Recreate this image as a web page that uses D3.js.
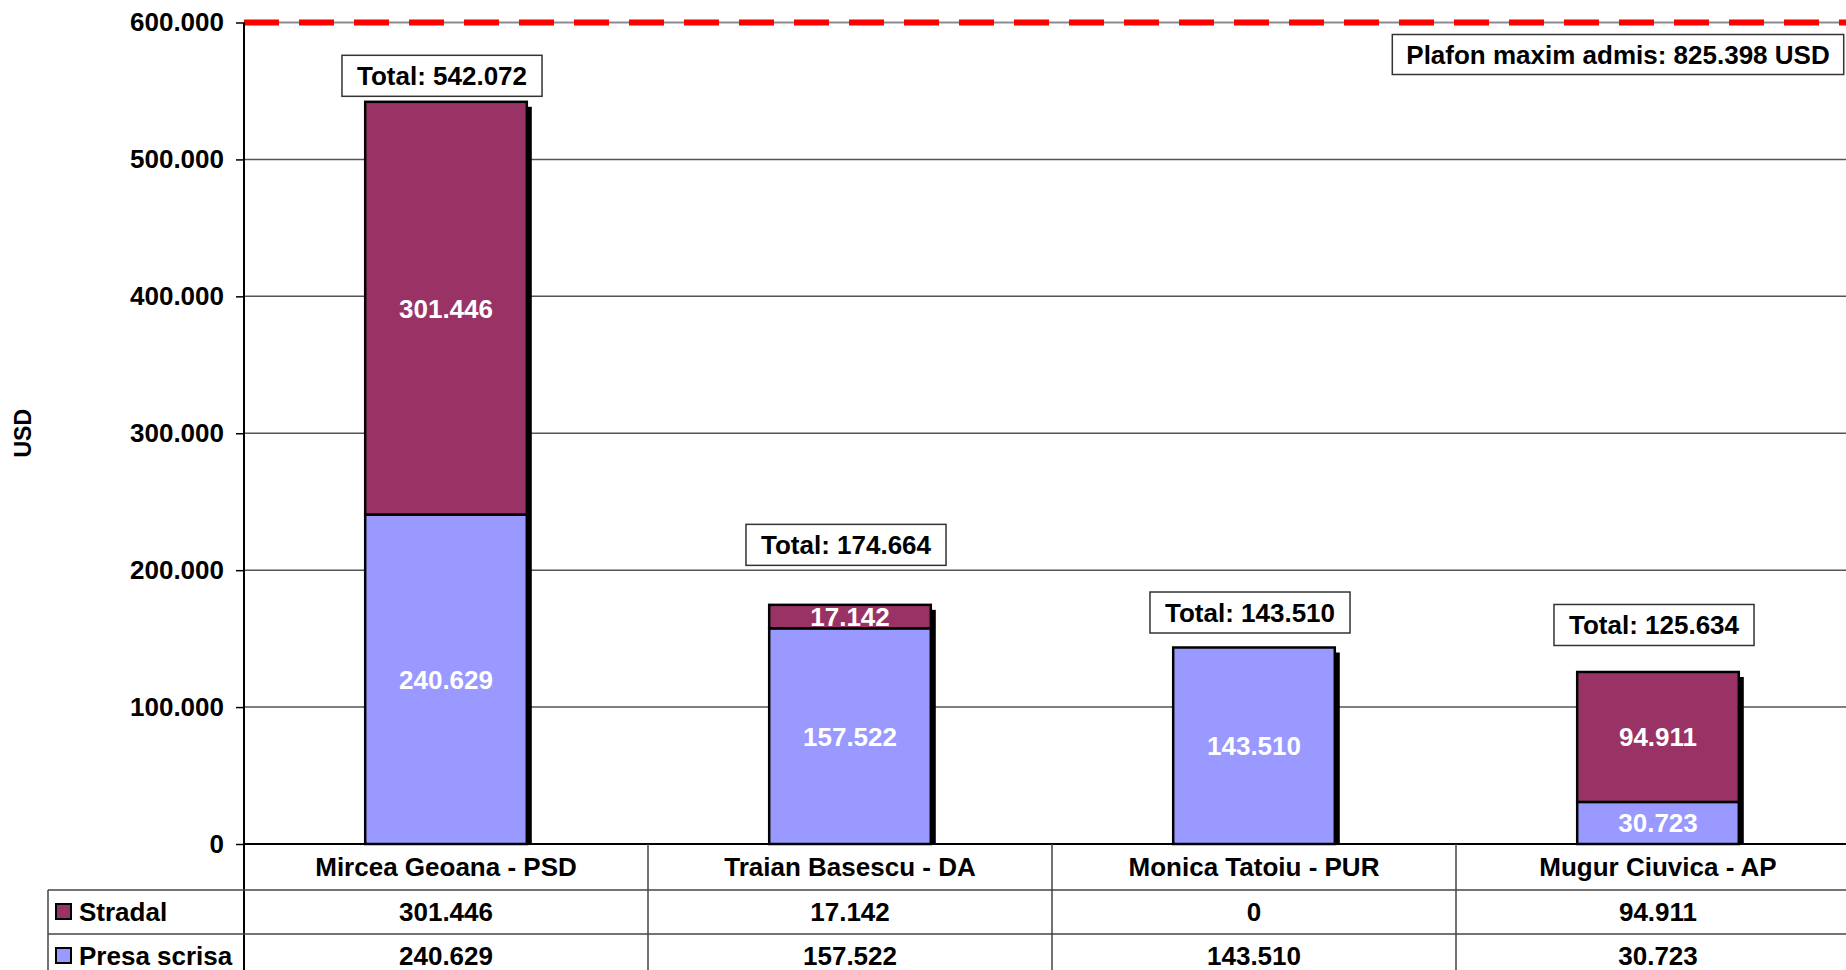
<!DOCTYPE html>
<html>
<head>
<meta charset="utf-8">
<script src="https://cdn.jsdelivr.net/npm/d3@7"></script>
<style>
  body { margin: 0; background: #fff; }
  text { font-family: "Liberation Sans", Arial, sans-serif; font-weight: bold; }
</style>
</head>
<body>
<script>
// chart data
var candidates = ["Mircea Geoana - PSD", "Traian Basescu - DA", "Monica Tatoiu - PUR", "Mugur Ciuvica - AP"];
var stradal = [301446, 17142, 0, 94911];
var presaScrisa = [240629, 157522, 143510, 30723];
var totalsShown = [542072, 174664, 143510, 125634]; // as printed on the chart
var seriesNames = ["Stradal", "Presa scrisa"];
var yTicks = [0, 100000, 200000, 300000, 400000, 500000, 600000];
var plafonText = "Plafon maxim admis: 825.398 USD";

// layout (not data)
var totalLabelLift = [26, 60, 35, 47];
var colors = { "Stradal": "#993366", "Presa scrisa": "#9999ff" };

var svgWidth = 1846, svgHeight = 970;
var plotLeft = 244, bandW = 404;
var yTop = 22.5, yBottom = 844;

var svg = d3.select("body").append("svg")
  .attr("width", svgWidth)
  .attr("height", svgHeight);

// romanian number format: 542.072
var ro = d3.formatLocale({ decimal: ",", thousands: ".", grouping: [3], currency: ["", ""] });
var fmt = ro.format(",d");

var x = d3.scaleBand()
  .domain(candidates)
  .range([plotLeft, plotLeft + bandW * candidates.length])
  .padding(0);

var y = d3.scaleLinear()
  .domain([0, 600000])
  .range([yBottom, yTop]);

var barW = x.bandwidth() * 0.4;

// gridlines
svg.append("g").selectAll("line")
  .data(yTicks.filter(d => d > 0 && d < 600000))
  .enter().append("line")
  .attr("x1", plotLeft).attr("x2", svgWidth)
  .attr("y1", d => y(d)).attr("y2", d => y(d))
  .attr("stroke", "#555").attr("stroke-width", 1.5);

// top gridline (grey) with red dashed ceiling line
svg.append("line")
  .attr("x1", plotLeft).attr("x2", svgWidth)
  .attr("y1", y(600000)).attr("y2", y(600000))
  .attr("stroke", "#8c8c8c").attr("stroke-width", 2);
svg.append("line")
  .attr("x1", plotLeft).attr("x2", svgWidth)
  .attr("y1", y(600000)).attr("y2", y(600000))
  .attr("stroke", "#ff0000").attr("stroke-width", 6)
  .attr("stroke-dasharray", "35,20");

// y axis
var leftAxis = d3.axisLeft(y)
  .tickValues(yTicks)
  .tickFormat(fmt)
  .tickSize(8)
  .tickPadding(12);

var yAxis = svg.append("g")
  .attr("transform", `translate(${plotLeft},0)`)
  .call(leftAxis);
yAxis.select(".domain").remove();
yAxis.selectAll(".tick line").attr("stroke", "#000").attr("stroke-width", 1.5);
yAxis.selectAll(".tick text")
  .attr("font-size", 26)
  .attr("fill", "#000")
  .style("font-family", "'Liberation Sans', Arial, sans-serif")
  .style("font-weight", "bold");

// y axis title
svg.append("text")
  .attr("transform", `translate(31, ${(yTop + yBottom) / 2}) rotate(-90)`)
  .attr("text-anchor", "middle")
  .attr("font-size", 23)
  .text("USD");

// stacked bars
var stackData = candidates.map((c, i) => ({ name: c, total: totalsShown[i], "Presa scrisa": presaScrisa[i], "Stradal": stradal[i] }));
var stack = d3.stack().keys(["Presa scrisa", "Stradal"]);
var layers = stack(stackData);

// shadows
svg.append("g").selectAll("rect")
  .data(stackData)
  .enter().append("rect")
  .attr("x", d => x(d.name) + (x.bandwidth() - barW) / 2 + 5)
  .attr("y", d => y(d["Presa scrisa"] + d["Stradal"]) + 5)
  .attr("width", barW)
  .attr("height", d => yBottom - y(d["Presa scrisa"] + d["Stradal"]) - 5)
  .attr("fill", "#000");

var layerGroups = svg.append("g").selectAll("g")
  .data(layers)
  .enter().append("g")
  .attr("fill", d => colors[d.key]);

layerGroups.selectAll("rect")
  .data(d => d.filter(s => s[1] - s[0] > 0))
  .enter().append("rect")
  .attr("x", d => x(d.data.name) + (x.bandwidth() - barW) / 2)
  .attr("y", d => y(d[1]))
  .attr("width", barW)
  .attr("height", d => y(d[0]) - y(d[1]))
  .attr("stroke", "#000")
  .attr("stroke-width", 2.5);

// value labels inside segments
layerGroups.selectAll("text")
  .data(d => d.filter(s => s[1] - s[0] > 0))
  .enter().append("text")
  .attr("x", d => x(d.data.name) + x.bandwidth() / 2)
  .attr("y", d => (y(d[0]) + y(d[1])) / 2)
  .attr("dy", "0.36em")
  .attr("text-anchor", "middle")
  .attr("font-size", 26)
  .attr("fill", "#fff")
  .text(d => fmt(d[1] - d[0]));

// total labels in boxes
var totals = svg.append("g").selectAll("g")
  .data(stackData)
  .enter().append("g")
  .attr("transform", (d, i) => `translate(${x(d.name) + x.bandwidth() / 2 - 4}, ${y(d["Presa scrisa"] + d["Stradal"]) - totalLabelLift[i]})`);

totals.append("rect").attr("class", "box");
totals.append("text")
  .attr("text-anchor", "middle")
  .attr("dy", "0.36em")
  .attr("font-size", 26)
  .text(d => "Total: " + fmt(d.total));
totals.each(function () {
  var g = d3.select(this);
  var w = g.select("text").node().getComputedTextLength() + 30;
  g.select("rect")
    .attr("x", -w / 2).attr("y", -20.5)
    .attr("width", w).attr("height", 41)
    .attr("fill", "#fff").attr("stroke", "#333").attr("stroke-width", 1.5);
});

// plafon label
var plafon = svg.append("g").attr("transform", "translate(1618, 54.5)");
plafon.append("rect");
plafon.append("text")
  .attr("text-anchor", "middle")
  .attr("dy", "0.36em")
  .attr("font-size", 26)
  .text(plafonText);
var pw = plafon.select("text").node().getComputedTextLength() + 28;
plafon.select("rect")
  .attr("x", -pw / 2).attr("y", -20)
  .attr("width", pw).attr("height", 40)
  .attr("fill", "#fff").attr("stroke", "#333").attr("stroke-width", 1.5);

// axis lines
svg.append("line")
  .attr("x1", plotLeft).attr("x2", plotLeft)
  .attr("y1", yTop).attr("y2", svgHeight)
  .attr("stroke", "#000").attr("stroke-width", 2);
svg.append("line")
  .attr("x1", plotLeft).attr("x2", svgWidth)
  .attr("y1", yBottom).attr("y2", yBottom)
  .attr("stroke", "#000").attr("stroke-width", 2);

// data table
var rowTop = [844, 890, 934, 978];
var tableLeft = 48;

svg.append("g").selectAll("line")
  .data(x.domain().slice(1))
  .enter().append("line")
  .attr("x1", d => x(d)).attr("x2", d => x(d))
  .attr("y1", yBottom).attr("y2", svgHeight)
  .attr("stroke", "#444").attr("stroke-width", 1.5);

svg.append("g").selectAll("line")
  .data(rowTop.slice(1))
  .enter().append("line")
  .attr("x1", tableLeft).attr("x2", svgWidth)
  .attr("y1", d => d).attr("y2", d => d)
  .attr("stroke", "#444").attr("stroke-width", 1.5);

svg.append("line")
  .attr("x1", tableLeft).attr("x2", tableLeft)
  .attr("y1", rowTop[1]).attr("y2", svgHeight)
  .attr("stroke", "#444").attr("stroke-width", 1.5);

// category row
svg.append("g").selectAll("text")
  .data(candidates)
  .enter().append("text")
  .attr("x", d => x(d) + x.bandwidth() / 2)
  .attr("y", (rowTop[0] + rowTop[1]) / 2)
  .attr("dy", "0.36em")
  .attr("text-anchor", "middle")
  .attr("font-size", 26)
  .text(d => d);

// series rows
var rowValues = [stradal, presaScrisa];
seriesNames.forEach(function (name, r) {
  var cy = (rowTop[r + 1] + rowTop[r + 2]) / 2;
  svg.append("rect")
    .attr("x", 56).attr("y", cy - 8)
    .attr("width", 15).attr("height", 15)
    .attr("fill", colors[name])
    .attr("stroke", "#000").attr("stroke-width", 2);
  svg.append("text")
    .attr("x", 79).attr("y", cy)
    .attr("dy", "0.36em")
    .attr("font-size", 26)
    .text(name);
  svg.append("g").selectAll("text")
    .data(rowValues[r])
    .enter().append("text")
    .attr("x", (d, i) => x(candidates[i]) + x.bandwidth() / 2)
    .attr("y", cy)
    .attr("dy", "0.36em")
    .attr("text-anchor", "middle")
    .attr("font-size", 26)
    .text(d => fmt(d));
});
</script>
</body>
</html>
